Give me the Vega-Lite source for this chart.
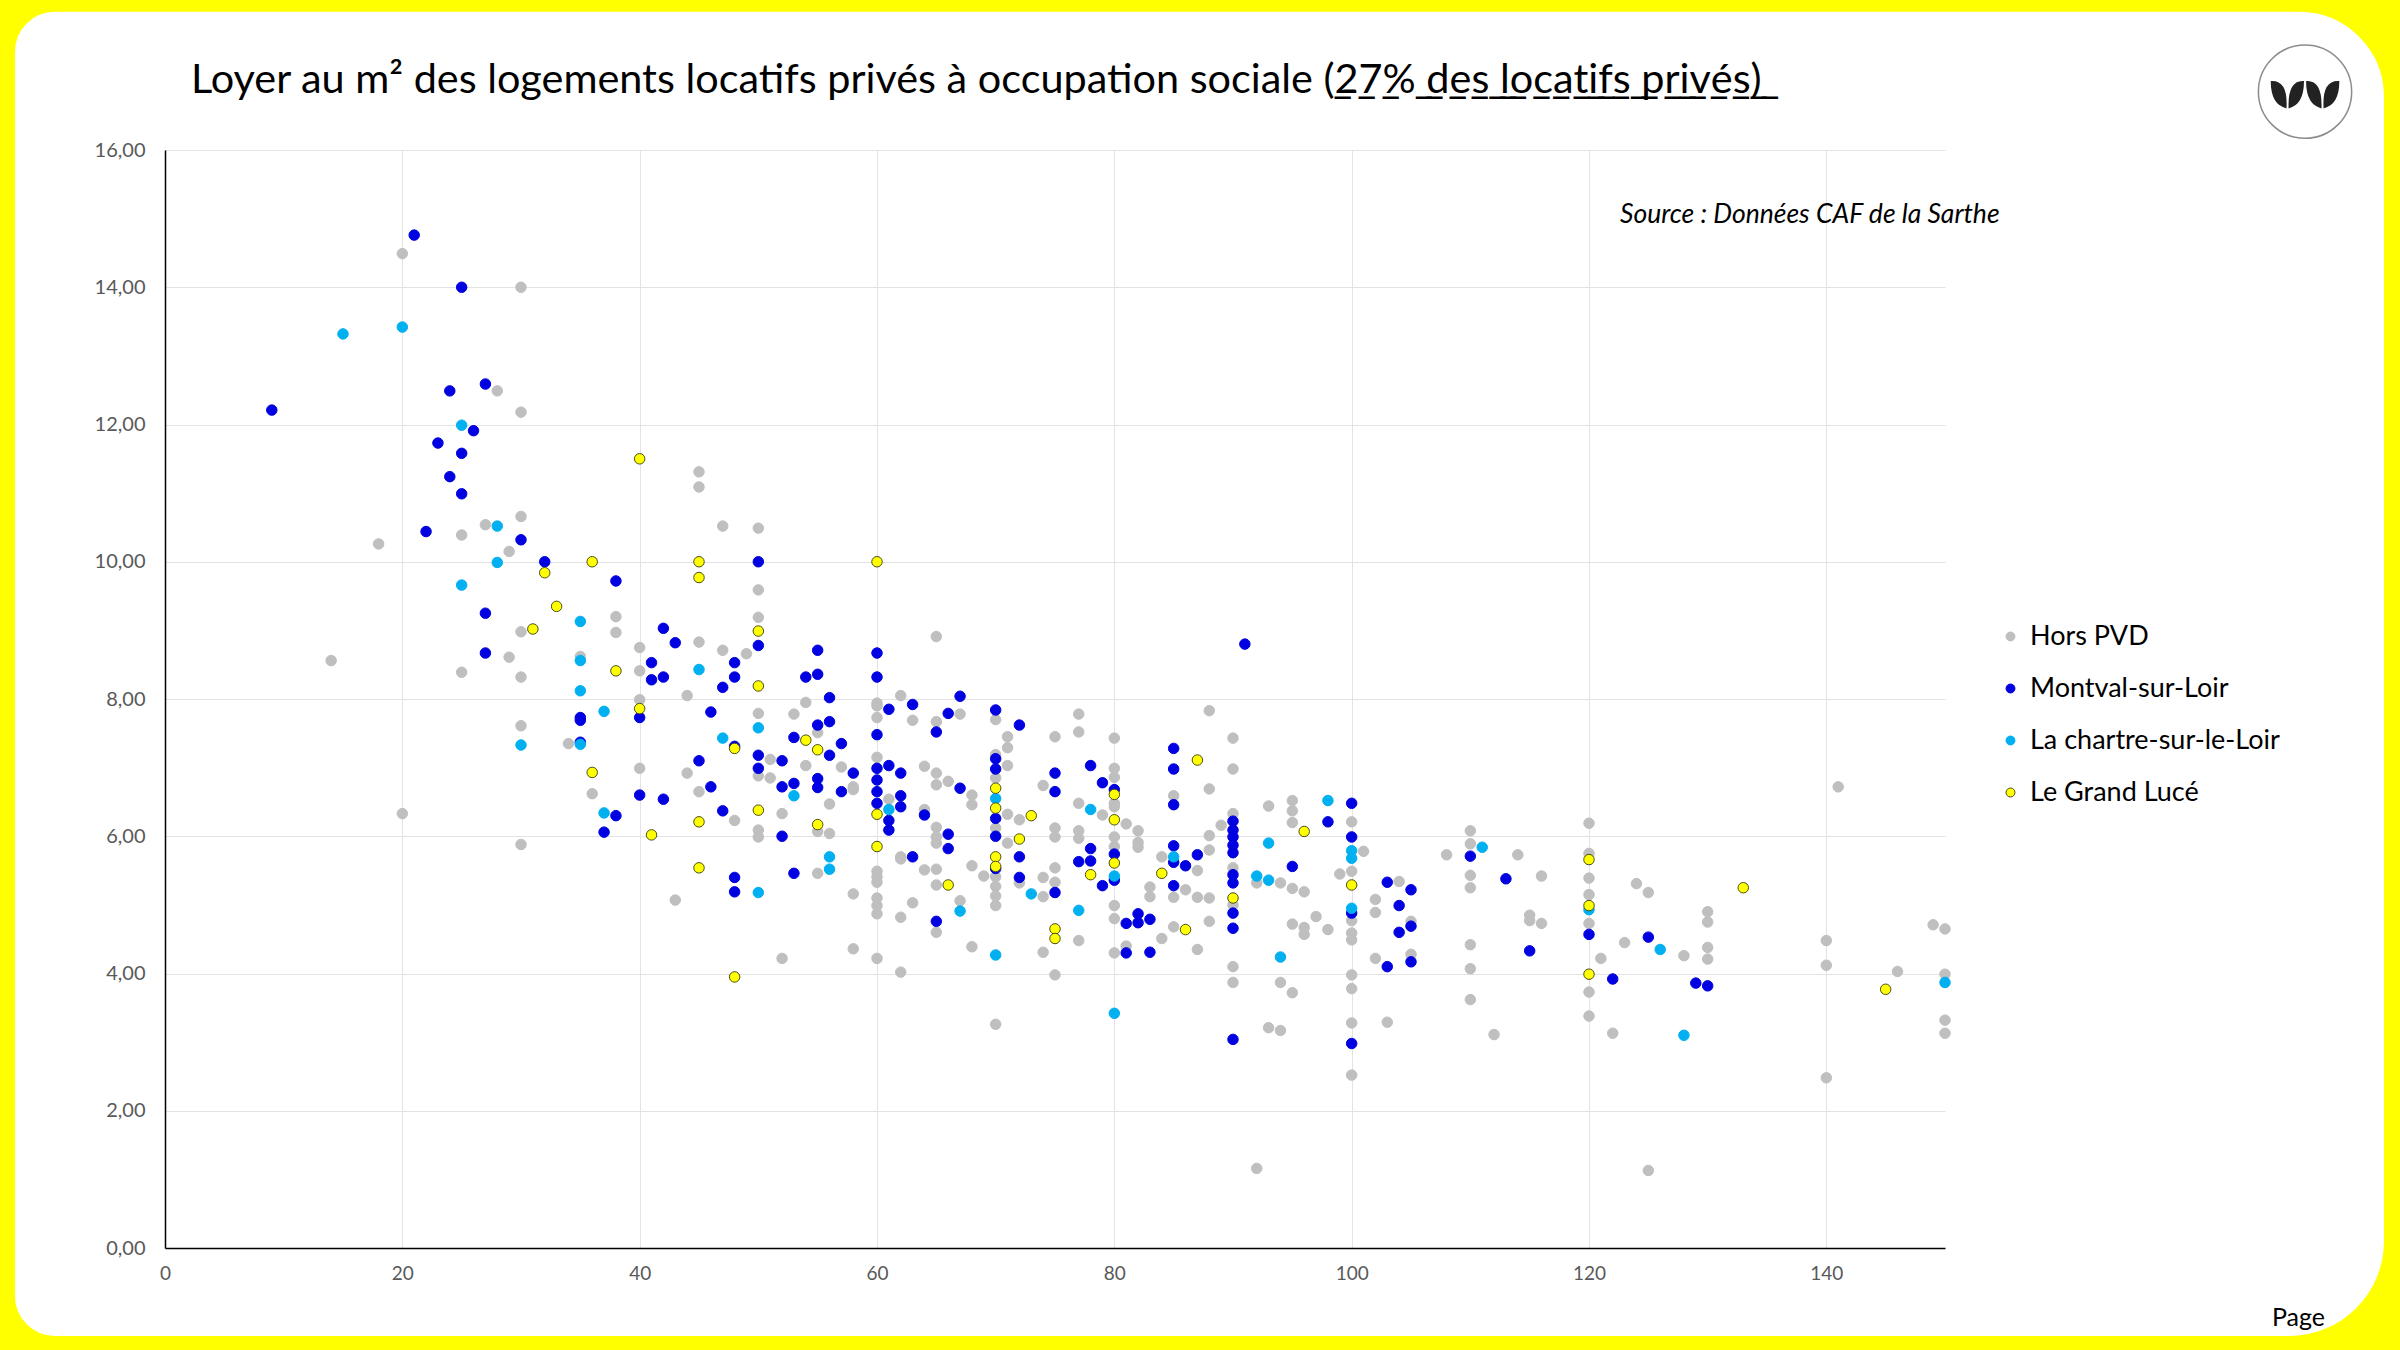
{
  "$schema": "https://vega.github.io/schema/vega-lite/v6.json",
  "autosize": "none",
  "width": 1780,
  "height": 1098,
  "padding": {"left": 165, "top": 150, "right": 455, "bottom": 102},
  "background": "#FFFFFF",
  "title": {
    "text": "Loyer au m² des logements locatifs privés à occupation sociale (̲2̲7̲%̲ ̲d̲e̲s̲ ̲l̲o̲c̲a̲t̲i̲f̲s̲ ̲p̲r̲i̲v̲é̲s̲)̲",
    "anchor": "start",
    "frame": "group",
    "dx": 26,
    "offset": -323,
    "baseline": "alphabetic",
    "font": "Lato",
    "fontSize": 41.4,
    "fontWeight": "normal",
    "color": "#000000",
    "limit": 2100
  },
  "config": {
    "font": "Lato",
    "view": {"stroke": null},
    "axis": {
      "ticks": false,
      "tickSize": 0,
      "grid": true,
      "gridColor": "#E3E3E3",
      "gridWidth": 1,
      "domainColor": "#000000",
      "domainWidth": 1.5,
      "labelFont": "Lato",
      "labelFontSize": 19,
      "labelColor": "#595959",
      "title": null
    }
  },
  "layer": [
    {
      "data": {
        "values": [
          {"serie":"Hors PVD","m2":20,"loyer":14.49},{"serie":"Hors PVD","m2":30,"loyer":14.0},{"serie":"Hors PVD","m2":28,"loyer":12.49},{"serie":"Hors PVD","m2":30,"loyer":12.18},{"serie":"Hors PVD","m2":30,"loyer":10.66},{"serie":"Hors PVD","m2":27,"loyer":10.54},{"serie":"Hors PVD","m2":25,"loyer":10.39},{"serie":"Hors PVD","m2":18,"loyer":10.26},{"serie":"Hors PVD","m2":29,"loyer":10.15},{"serie":"Hors PVD","m2":30,"loyer":8.98},{"serie":"Hors PVD","m2":29,"loyer":8.61},{"serie":"Hors PVD","m2":14,"loyer":8.56},{"serie":"Hors PVD","m2":25,"loyer":8.39},{"serie":"Hors PVD","m2":30,"loyer":8.32},{"serie":"Hors PVD","m2":30,"loyer":7.61},{"serie":"Hors PVD","m2":20,"loyer":6.33},{"serie":"Hors PVD","m2":30,"loyer":5.88},
          {"serie":"Hors PVD","m2":47,"loyer":10.52},{"serie":"Hors PVD","m2":50,"loyer":10.49},{"serie":"Hors PVD","m2":50,"loyer":9.59},{"serie":"Hors PVD","m2":38,"loyer":9.2},{"serie":"Hors PVD","m2":50,"loyer":9.19},{"serie":"Hors PVD","m2":38,"loyer":8.97},{"serie":"Hors PVD","m2":45,"loyer":8.83},{"serie":"Hors PVD","m2":40,"loyer":8.75},{"serie":"Hors PVD","m2":47,"loyer":8.71},{"serie":"Hors PVD","m2":49,"loyer":8.66},{"serie":"Hors PVD","m2":35,"loyer":8.62},{"serie":"Hors PVD","m2":40,"loyer":8.41},{"serie":"Hors PVD","m2":44,"loyer":8.05},{"serie":"Hors PVD","m2":40,"loyer":7.99},{"serie":"Hors PVD","m2":54,"loyer":7.95},{"serie":"Hors PVD","m2":60,"loyer":7.94},{"serie":"Hors PVD","m2":60,"loyer":7.9},{"serie":"Hors PVD","m2":50,"loyer":7.79},{"serie":"Hors PVD","m2":53,"loyer":7.78},{"serie":"Hors PVD","m2":60,"loyer":7.73},{"serie":"Hors PVD","m2":55,"loyer":7.51},{"serie":"Hors PVD","m2":34,"loyer":7.35},{"serie":"Hors PVD","m2":60,"loyer":7.15},{"serie":"Hors PVD","m2":51,"loyer":7.12},{"serie":"Hors PVD","m2":50,"loyer":6.88},{"serie":"Hors PVD","m2":51,"loyer":6.85},{"serie":"Hors PVD","m2":40,"loyer":6.99},{"serie":"Hors PVD","m2":44,"loyer":6.92},{"serie":"Hors PVD","m2":54,"loyer":7.03},{"serie":"Hors PVD","m2":57,"loyer":7.01},{"serie":"Hors PVD","m2":58,"loyer":6.72},{"serie":"Hors PVD","m2":58,"loyer":6.68},{"serie":"Hors PVD","m2":45,"loyer":6.65},{"serie":"Hors PVD","m2":36,"loyer":6.62},{"serie":"Hors PVD","m2":56,"loyer":6.47},{"serie":"Hors PVD","m2":48,"loyer":6.23},{"serie":"Hors PVD","m2":52,"loyer":6.33},{"serie":"Hors PVD","m2":55,"loyer":6.07},{"serie":"Hors PVD","m2":56,"loyer":6.04},{"serie":"Hors PVD","m2":50,"loyer":6.09},{"serie":"Hors PVD","m2":50,"loyer":5.99},{"serie":"Hors PVD","m2":45,"loyer":11.31},{"serie":"Hors PVD","m2":45,"loyer":11.09},
          {"serie":"Hors PVD","m2":55,"loyer":5.46},{"serie":"Hors PVD","m2":43,"loyer":5.07},{"serie":"Hors PVD","m2":58,"loyer":5.16},{"serie":"Hors PVD","m2":60,"loyer":5.49},{"serie":"Hors PVD","m2":60,"loyer":5.41},{"serie":"Hors PVD","m2":60,"loyer":5.33},{"serie":"Hors PVD","m2":60,"loyer":5.1},{"serie":"Hors PVD","m2":60,"loyer":4.99},{"serie":"Hors PVD","m2":60,"loyer":4.87},{"serie":"Hors PVD","m2":58,"loyer":4.36},{"serie":"Hors PVD","m2":52,"loyer":4.22},{"serie":"Hors PVD","m2":60,"loyer":4.22},
          {"serie":"Hors PVD","m2":65,"loyer":8.91},{"serie":"Hors PVD","m2":62,"loyer":8.05},{"serie":"Hors PVD","m2":63,"loyer":7.69},{"serie":"Hors PVD","m2":65,"loyer":7.67},{"serie":"Hors PVD","m2":67,"loyer":7.78},{"serie":"Hors PVD","m2":70,"loyer":7.7},{"serie":"Hors PVD","m2":71,"loyer":7.45},{"serie":"Hors PVD","m2":71,"loyer":7.29},{"serie":"Hors PVD","m2":71,"loyer":7.03},{"serie":"Hors PVD","m2":75,"loyer":7.45},{"serie":"Hors PVD","m2":77,"loyer":7.78},{"serie":"Hors PVD","m2":77,"loyer":7.52},{"serie":"Hors PVD","m2":80,"loyer":7.43},{"serie":"Hors PVD","m2":88,"loyer":7.83},{"serie":"Hors PVD","m2":90,"loyer":7.43},{"serie":"Hors PVD","m2":90,"loyer":6.98},{"serie":"Hors PVD","m2":64,"loyer":7.02},{"serie":"Hors PVD","m2":65,"loyer":6.92},{"serie":"Hors PVD","m2":65,"loyer":6.75},{"serie":"Hors PVD","m2":66,"loyer":6.8},{"serie":"Hors PVD","m2":68,"loyer":6.6},{"serie":"Hors PVD","m2":68,"loyer":6.46},{"serie":"Hors PVD","m2":70,"loyer":7.19},{"serie":"Hors PVD","m2":70,"loyer":6.85},{"serie":"Hors PVD","m2":70,"loyer":6.12},{"serie":"Hors PVD","m2":74,"loyer":6.74},{"serie":"Hors PVD","m2":77,"loyer":6.48},{"serie":"Hors PVD","m2":79,"loyer":6.31},{"serie":"Hors PVD","m2":80,"loyer":6.99},{"serie":"Hors PVD","m2":80,"loyer":6.86},{"serie":"Hors PVD","m2":80,"loyer":6.48},{"serie":"Hors PVD","m2":80,"loyer":6.43},{"serie":"Hors PVD","m2":81,"loyer":6.18},{"serie":"Hors PVD","m2":82,"loyer":6.08},{"serie":"Hors PVD","m2":80,"loyer":5.99},{"serie":"Hors PVD","m2":80,"loyer":5.85},{"serie":"Hors PVD","m2":82,"loyer":5.91},{"serie":"Hors PVD","m2":82,"loyer":5.84},{"serie":"Hors PVD","m2":85,"loyer":6.59},{"serie":"Hors PVD","m2":88,"loyer":6.69},{"serie":"Hors PVD","m2":90,"loyer":6.33},{"serie":"Hors PVD","m2":89,"loyer":6.16},{"serie":"Hors PVD","m2":88,"loyer":6.01},{"serie":"Hors PVD","m2":88,"loyer":5.8},{"serie":"Hors PVD","m2":84,"loyer":5.7},{"serie":"Hors PVD","m2":61,"loyer":6.54},{"serie":"Hors PVD","m2":64,"loyer":6.39},{"serie":"Hors PVD","m2":65,"loyer":6.13},{"serie":"Hors PVD","m2":65,"loyer":5.99},{"serie":"Hors PVD","m2":65,"loyer":5.9},{"serie":"Hors PVD","m2":62,"loyer":5.7},{"serie":"Hors PVD","m2":71,"loyer":6.32},{"serie":"Hors PVD","m2":72,"loyer":6.24},{"serie":"Hors PVD","m2":71,"loyer":5.9},{"serie":"Hors PVD","m2":75,"loyer":6.12},{"serie":"Hors PVD","m2":75,"loyer":5.99},{"serie":"Hors PVD","m2":77,"loyer":6.08},{"serie":"Hors PVD","m2":77,"loyer":5.97},
          {"serie":"Hors PVD","m2":62,"loyer":5.67},{"serie":"Hors PVD","m2":64,"loyer":5.51},{"serie":"Hors PVD","m2":65,"loyer":5.52},{"serie":"Hors PVD","m2":65,"loyer":5.29},{"serie":"Hors PVD","m2":63,"loyer":5.03},{"serie":"Hors PVD","m2":67,"loyer":5.06},{"serie":"Hors PVD","m2":65,"loyer":4.6},{"serie":"Hors PVD","m2":62,"loyer":4.82},{"serie":"Hors PVD","m2":68,"loyer":5.57},{"serie":"Hors PVD","m2":69,"loyer":5.42},{"serie":"Hors PVD","m2":70,"loyer":5.41},{"serie":"Hors PVD","m2":70,"loyer":5.27},{"serie":"Hors PVD","m2":70,"loyer":5.13},{"serie":"Hors PVD","m2":70,"loyer":4.99},{"serie":"Hors PVD","m2":70,"loyer":3.26},{"serie":"Hors PVD","m2":68,"loyer":4.39},{"serie":"Hors PVD","m2":62,"loyer":4.02},{"serie":"Hors PVD","m2":72,"loyer":5.32},{"serie":"Hors PVD","m2":74,"loyer":5.4},{"serie":"Hors PVD","m2":74,"loyer":5.12},{"serie":"Hors PVD","m2":75,"loyer":5.54},{"serie":"Hors PVD","m2":75,"loyer":5.33},{"serie":"Hors PVD","m2":74,"loyer":4.31},{"serie":"Hors PVD","m2":75,"loyer":3.98},{"serie":"Hors PVD","m2":77,"loyer":4.48},{"serie":"Hors PVD","m2":80,"loyer":4.99},{"serie":"Hors PVD","m2":80,"loyer":4.8},{"serie":"Hors PVD","m2":80,"loyer":4.3},{"serie":"Hors PVD","m2":81,"loyer":4.4},{"serie":"Hors PVD","m2":83,"loyer":5.26},{"serie":"Hors PVD","m2":83,"loyer":5.12},{"serie":"Hors PVD","m2":84,"loyer":4.51},{"serie":"Hors PVD","m2":85,"loyer":5.11},{"serie":"Hors PVD","m2":86,"loyer":5.22},{"serie":"Hors PVD","m2":85,"loyer":4.68},{"serie":"Hors PVD","m2":87,"loyer":5.5},{"serie":"Hors PVD","m2":87,"loyer":5.11},{"serie":"Hors PVD","m2":87,"loyer":4.35},{"serie":"Hors PVD","m2":88,"loyer":5.1},{"serie":"Hors PVD","m2":88,"loyer":4.76},{"serie":"Hors PVD","m2":90,"loyer":5.54},{"serie":"Hors PVD","m2":90,"loyer":5.0},{"serie":"Hors PVD","m2":90,"loyer":4.1},{"serie":"Hors PVD","m2":90,"loyer":3.87},
          {"serie":"Hors PVD","m2":93,"loyer":6.44},{"serie":"Hors PVD","m2":95,"loyer":6.52},{"serie":"Hors PVD","m2":95,"loyer":6.37},{"serie":"Hors PVD","m2":95,"loyer":6.2},{"serie":"Hors PVD","m2":100,"loyer":6.21},{"serie":"Hors PVD","m2":101,"loyer":5.78},{"serie":"Hors PVD","m2":92,"loyer":5.32},{"serie":"Hors PVD","m2":94,"loyer":5.32},{"serie":"Hors PVD","m2":95,"loyer":5.24},{"serie":"Hors PVD","m2":96,"loyer":5.19},{"serie":"Hors PVD","m2":99,"loyer":5.45},{"serie":"Hors PVD","m2":100,"loyer":5.49},{"serie":"Hors PVD","m2":104,"loyer":5.34},{"serie":"Hors PVD","m2":102,"loyer":5.08},{"serie":"Hors PVD","m2":110,"loyer":6.08},{"serie":"Hors PVD","m2":110,"loyer":5.89},{"serie":"Hors PVD","m2":110,"loyer":5.43},{"serie":"Hors PVD","m2":110,"loyer":5.25},{"serie":"Hors PVD","m2":108,"loyer":5.73},{"serie":"Hors PVD","m2":114,"loyer":5.73},{"serie":"Hors PVD","m2":116,"loyer":5.42},{"serie":"Hors PVD","m2":120,"loyer":6.19},{"serie":"Hors PVD","m2":120,"loyer":5.75},{"serie":"Hors PVD","m2":120,"loyer":5.39},{"serie":"Hors PVD","m2":120,"loyer":5.15},
          {"serie":"Hors PVD","m2":95,"loyer":4.72},{"serie":"Hors PVD","m2":96,"loyer":4.67},{"serie":"Hors PVD","m2":96,"loyer":4.57},{"serie":"Hors PVD","m2":97,"loyer":4.83},{"serie":"Hors PVD","m2":98,"loyer":4.64},{"serie":"Hors PVD","m2":94,"loyer":3.87},{"serie":"Hors PVD","m2":95,"loyer":3.72},{"serie":"Hors PVD","m2":93,"loyer":3.21},{"serie":"Hors PVD","m2":94,"loyer":3.17},{"serie":"Hors PVD","m2":92,"loyer":1.16},{"serie":"Hors PVD","m2":100,"loyer":4.77},{"serie":"Hors PVD","m2":100,"loyer":4.59},{"serie":"Hors PVD","m2":100,"loyer":4.49},{"serie":"Hors PVD","m2":100,"loyer":3.98},{"serie":"Hors PVD","m2":100,"loyer":3.78},{"serie":"Hors PVD","m2":100,"loyer":3.28},{"serie":"Hors PVD","m2":100,"loyer":2.52},{"serie":"Hors PVD","m2":102,"loyer":4.89},{"serie":"Hors PVD","m2":105,"loyer":4.76},{"serie":"Hors PVD","m2":102,"loyer":4.22},{"serie":"Hors PVD","m2":105,"loyer":4.28},{"serie":"Hors PVD","m2":103,"loyer":3.29},{"serie":"Hors PVD","m2":110,"loyer":4.42},{"serie":"Hors PVD","m2":110,"loyer":4.07},{"serie":"Hors PVD","m2":110,"loyer":3.62},{"serie":"Hors PVD","m2":112,"loyer":3.11},{"serie":"Hors PVD","m2":115,"loyer":4.85},{"serie":"Hors PVD","m2":115,"loyer":4.77},{"serie":"Hors PVD","m2":116,"loyer":4.73},{"serie":"Hors PVD","m2":120,"loyer":4.73},{"serie":"Hors PVD","m2":120,"loyer":3.73},{"serie":"Hors PVD","m2":120,"loyer":3.38},
          {"serie":"Hors PVD","m2":141,"loyer":6.72},{"serie":"Hors PVD","m2":124,"loyer":5.31},{"serie":"Hors PVD","m2":125,"loyer":5.18},{"serie":"Hors PVD","m2":130,"loyer":4.9},{"serie":"Hors PVD","m2":130,"loyer":4.75},{"serie":"Hors PVD","m2":123,"loyer":4.45},{"serie":"Hors PVD","m2":128,"loyer":4.26},{"serie":"Hors PVD","m2":130,"loyer":4.38},{"serie":"Hors PVD","m2":130,"loyer":4.21},{"serie":"Hors PVD","m2":121,"loyer":4.22},{"serie":"Hors PVD","m2":122,"loyer":3.13},{"serie":"Hors PVD","m2":125,"loyer":1.13},{"serie":"Hors PVD","m2":140,"loyer":4.48},{"serie":"Hors PVD","m2":140,"loyer":4.12},{"serie":"Hors PVD","m2":140,"loyer":2.48},{"serie":"Hors PVD","m2":146,"loyer":4.03},{"serie":"Hors PVD","m2":149,"loyer":4.71},{"serie":"Hors PVD","m2":150,"loyer":4.65},{"serie":"Hors PVD","m2":150,"loyer":3.99},{"serie":"Hors PVD","m2":150,"loyer":3.32},{"serie":"Hors PVD","m2":150,"loyer":3.13},

          {"serie":"Montval-sur-Loir","m2":21,"loyer":14.76},{"serie":"Montval-sur-Loir","m2":25,"loyer":14.0},{"serie":"Montval-sur-Loir","m2":27,"loyer":12.59},{"serie":"Montval-sur-Loir","m2":24,"loyer":12.49},{"serie":"Montval-sur-Loir","m2":9,"loyer":12.21},{"serie":"Montval-sur-Loir","m2":26,"loyer":11.91},{"serie":"Montval-sur-Loir","m2":23,"loyer":11.73},{"serie":"Montval-sur-Loir","m2":25,"loyer":11.58},{"serie":"Montval-sur-Loir","m2":24,"loyer":11.24},{"serie":"Montval-sur-Loir","m2":25,"loyer":10.99},{"serie":"Montval-sur-Loir","m2":22,"loyer":10.44},{"serie":"Montval-sur-Loir","m2":30,"loyer":10.32},{"serie":"Montval-sur-Loir","m2":32,"loyer":10.0},{"serie":"Montval-sur-Loir","m2":27,"loyer":9.25},{"serie":"Montval-sur-Loir","m2":27,"loyer":8.67},
          {"serie":"Montval-sur-Loir","m2":50,"loyer":10.0},{"serie":"Montval-sur-Loir","m2":38,"loyer":9.72},{"serie":"Montval-sur-Loir","m2":42,"loyer":9.03},{"serie":"Montval-sur-Loir","m2":43,"loyer":8.82},{"serie":"Montval-sur-Loir","m2":50,"loyer":8.78},{"serie":"Montval-sur-Loir","m2":55,"loyer":8.71},{"serie":"Montval-sur-Loir","m2":60,"loyer":8.67},{"serie":"Montval-sur-Loir","m2":41,"loyer":8.53},{"serie":"Montval-sur-Loir","m2":48,"loyer":8.53},{"serie":"Montval-sur-Loir","m2":41,"loyer":8.28},{"serie":"Montval-sur-Loir","m2":42,"loyer":8.32},{"serie":"Montval-sur-Loir","m2":48,"loyer":8.32},{"serie":"Montval-sur-Loir","m2":47,"loyer":8.17},{"serie":"Montval-sur-Loir","m2":54,"loyer":8.32},{"serie":"Montval-sur-Loir","m2":55,"loyer":8.36},{"serie":"Montval-sur-Loir","m2":60,"loyer":8.32},{"serie":"Montval-sur-Loir","m2":56,"loyer":8.02},{"serie":"Montval-sur-Loir","m2":40,"loyer":7.73},{"serie":"Montval-sur-Loir","m2":46,"loyer":7.81},{"serie":"Montval-sur-Loir","m2":35,"loyer":7.73},{"serie":"Montval-sur-Loir","m2":35,"loyer":7.69},{"serie":"Montval-sur-Loir","m2":61,"loyer":7.85},{"serie":"Montval-sur-Loir","m2":55,"loyer":7.62},{"serie":"Montval-sur-Loir","m2":56,"loyer":7.67},{"serie":"Montval-sur-Loir","m2":60,"loyer":7.48},{"serie":"Montval-sur-Loir","m2":35,"loyer":7.37},{"serie":"Montval-sur-Loir","m2":48,"loyer":7.31},{"serie":"Montval-sur-Loir","m2":53,"loyer":7.44},{"serie":"Montval-sur-Loir","m2":57,"loyer":7.35},{"serie":"Montval-sur-Loir","m2":56,"loyer":7.18},{"serie":"Montval-sur-Loir","m2":61,"loyer":7.03},{"serie":"Montval-sur-Loir","m2":50,"loyer":7.18},{"serie":"Montval-sur-Loir","m2":52,"loyer":7.1},{"serie":"Montval-sur-Loir","m2":50,"loyer":6.99},{"serie":"Montval-sur-Loir","m2":45,"loyer":7.1},{"serie":"Montval-sur-Loir","m2":58,"loyer":6.92},{"serie":"Montval-sur-Loir","m2":60,"loyer":6.99},{"serie":"Montval-sur-Loir","m2":60,"loyer":6.82},{"serie":"Montval-sur-Loir","m2":60,"loyer":6.65},{"serie":"Montval-sur-Loir","m2":60,"loyer":6.48},{"serie":"Montval-sur-Loir","m2":57,"loyer":6.65},{"serie":"Montval-sur-Loir","m2":55,"loyer":6.84},{"serie":"Montval-sur-Loir","m2":55,"loyer":6.71},{"serie":"Montval-sur-Loir","m2":53,"loyer":6.77},{"serie":"Montval-sur-Loir","m2":52,"loyer":6.72},{"serie":"Montval-sur-Loir","m2":46,"loyer":6.72},{"serie":"Montval-sur-Loir","m2":40,"loyer":6.6},{"serie":"Montval-sur-Loir","m2":42,"loyer":6.54},{"serie":"Montval-sur-Loir","m2":38,"loyer":6.3},{"serie":"Montval-sur-Loir","m2":37,"loyer":6.06},{"serie":"Montval-sur-Loir","m2":47,"loyer":6.37},{"serie":"Montval-sur-Loir","m2":52,"loyer":6.0},{"serie":"Montval-sur-Loir","m2":61,"loyer":6.23},{"serie":"Montval-sur-Loir","m2":61,"loyer":6.09},
          {"serie":"Montval-sur-Loir","m2":53,"loyer":5.46},{"serie":"Montval-sur-Loir","m2":48,"loyer":5.4},{"serie":"Montval-sur-Loir","m2":48,"loyer":5.19},
          {"serie":"Montval-sur-Loir","m2":67,"loyer":8.04},{"serie":"Montval-sur-Loir","m2":63,"loyer":7.92},{"serie":"Montval-sur-Loir","m2":66,"loyer":7.79},{"serie":"Montval-sur-Loir","m2":65,"loyer":7.52},{"serie":"Montval-sur-Loir","m2":70,"loyer":7.84},{"serie":"Montval-sur-Loir","m2":72,"loyer":7.62},{"serie":"Montval-sur-Loir","m2":85,"loyer":7.28},{"serie":"Montval-sur-Loir","m2":85,"loyer":6.98},{"serie":"Montval-sur-Loir","m2":62,"loyer":6.92},{"serie":"Montval-sur-Loir","m2":67,"loyer":6.7},{"serie":"Montval-sur-Loir","m2":70,"loyer":7.13},{"serie":"Montval-sur-Loir","m2":70,"loyer":6.98},{"serie":"Montval-sur-Loir","m2":70,"loyer":6.26},{"serie":"Montval-sur-Loir","m2":70,"loyer":6.0},{"serie":"Montval-sur-Loir","m2":75,"loyer":6.92},{"serie":"Montval-sur-Loir","m2":75,"loyer":6.65},{"serie":"Montval-sur-Loir","m2":78,"loyer":7.03},{"serie":"Montval-sur-Loir","m2":79,"loyer":6.78},{"serie":"Montval-sur-Loir","m2":80,"loyer":6.68},{"serie":"Montval-sur-Loir","m2":80,"loyer":5.74},{"serie":"Montval-sur-Loir","m2":85,"loyer":6.46},{"serie":"Montval-sur-Loir","m2":90,"loyer":6.22},{"serie":"Montval-sur-Loir","m2":90,"loyer":6.09},{"serie":"Montval-sur-Loir","m2":90,"loyer":5.99},{"serie":"Montval-sur-Loir","m2":90,"loyer":5.87},{"serie":"Montval-sur-Loir","m2":90,"loyer":5.76},{"serie":"Montval-sur-Loir","m2":85,"loyer":5.86},{"serie":"Montval-sur-Loir","m2":87,"loyer":5.73},{"serie":"Montval-sur-Loir","m2":62,"loyer":6.59},{"serie":"Montval-sur-Loir","m2":62,"loyer":6.43},{"serie":"Montval-sur-Loir","m2":64,"loyer":6.31},{"serie":"Montval-sur-Loir","m2":66,"loyer":6.03},{"serie":"Montval-sur-Loir","m2":66,"loyer":5.82},{"serie":"Montval-sur-Loir","m2":63,"loyer":5.7},{"serie":"Montval-sur-Loir","m2":72,"loyer":5.7},{"serie":"Montval-sur-Loir","m2":78,"loyer":5.82},{"serie":"Montval-sur-Loir","m2":77,"loyer":5.63},{"serie":"Montval-sur-Loir","m2":78,"loyer":5.64},
          {"serie":"Montval-sur-Loir","m2":70,"loyer":5.53},{"serie":"Montval-sur-Loir","m2":72,"loyer":5.4},{"serie":"Montval-sur-Loir","m2":75,"loyer":5.18},{"serie":"Montval-sur-Loir","m2":79,"loyer":5.28},{"serie":"Montval-sur-Loir","m2":80,"loyer":5.36},{"serie":"Montval-sur-Loir","m2":81,"loyer":4.73},{"serie":"Montval-sur-Loir","m2":82,"loyer":4.87},{"serie":"Montval-sur-Loir","m2":82,"loyer":4.74},{"serie":"Montval-sur-Loir","m2":83,"loyer":4.79},{"serie":"Montval-sur-Loir","m2":81,"loyer":4.3},{"serie":"Montval-sur-Loir","m2":83,"loyer":4.31},{"serie":"Montval-sur-Loir","m2":85,"loyer":5.62},{"serie":"Montval-sur-Loir","m2":86,"loyer":5.57},{"serie":"Montval-sur-Loir","m2":85,"loyer":5.28},{"serie":"Montval-sur-Loir","m2":90,"loyer":5.44},{"serie":"Montval-sur-Loir","m2":90,"loyer":5.32},{"serie":"Montval-sur-Loir","m2":90,"loyer":4.88},{"serie":"Montval-sur-Loir","m2":90,"loyer":4.66},{"serie":"Montval-sur-Loir","m2":90,"loyer":3.04},{"serie":"Montval-sur-Loir","m2":65,"loyer":4.76},
          {"serie":"Montval-sur-Loir","m2":100,"loyer":6.48},{"serie":"Montval-sur-Loir","m2":98,"loyer":6.21},{"serie":"Montval-sur-Loir","m2":100,"loyer":5.99},{"serie":"Montval-sur-Loir","m2":95,"loyer":5.56},{"serie":"Montval-sur-Loir","m2":103,"loyer":5.33},{"serie":"Montval-sur-Loir","m2":105,"loyer":5.22},{"serie":"Montval-sur-Loir","m2":104,"loyer":4.99},{"serie":"Montval-sur-Loir","m2":110,"loyer":5.71},{"serie":"Montval-sur-Loir","m2":113,"loyer":5.38},
          {"serie":"Montval-sur-Loir","m2":100,"loyer":4.88},{"serie":"Montval-sur-Loir","m2":105,"loyer":4.69},{"serie":"Montval-sur-Loir","m2":104,"loyer":4.6},{"serie":"Montval-sur-Loir","m2":103,"loyer":4.1},{"serie":"Montval-sur-Loir","m2":105,"loyer":4.17},{"serie":"Montval-sur-Loir","m2":115,"loyer":4.33},{"serie":"Montval-sur-Loir","m2":100,"loyer":2.98},{"serie":"Montval-sur-Loir","m2":120,"loyer":4.57},
          {"serie":"Montval-sur-Loir","m2":125,"loyer":4.53},{"serie":"Montval-sur-Loir","m2":122,"loyer":3.92},{"serie":"Montval-sur-Loir","m2":129,"loyer":3.86},{"serie":"Montval-sur-Loir","m2":130,"loyer":3.82},{"serie":"Montval-sur-Loir","m2":91,"loyer":8.8},

          {"serie":"La chartre-sur-le-Loir","m2":15,"loyer":13.32},{"serie":"La chartre-sur-le-Loir","m2":20,"loyer":13.42},{"serie":"La chartre-sur-le-Loir","m2":25,"loyer":11.99},{"serie":"La chartre-sur-le-Loir","m2":28,"loyer":10.52},{"serie":"La chartre-sur-le-Loir","m2":28,"loyer":9.99},{"serie":"La chartre-sur-le-Loir","m2":25,"loyer":9.66},{"serie":"La chartre-sur-le-Loir","m2":30,"loyer":7.33},{"serie":"La chartre-sur-le-Loir","m2":35,"loyer":9.13},{"serie":"La chartre-sur-le-Loir","m2":35,"loyer":8.56},{"serie":"La chartre-sur-le-Loir","m2":45,"loyer":8.43},{"serie":"La chartre-sur-le-Loir","m2":35,"loyer":8.12},{"serie":"La chartre-sur-le-Loir","m2":37,"loyer":7.82},{"serie":"La chartre-sur-le-Loir","m2":50,"loyer":7.58},{"serie":"La chartre-sur-le-Loir","m2":35,"loyer":7.34},{"serie":"La chartre-sur-le-Loir","m2":47,"loyer":7.43},{"serie":"La chartre-sur-le-Loir","m2":53,"loyer":6.59},{"serie":"La chartre-sur-le-Loir","m2":37,"loyer":6.34},{"serie":"La chartre-sur-le-Loir","m2":61,"loyer":6.39},{"serie":"La chartre-sur-le-Loir","m2":56,"loyer":5.7},{"serie":"La chartre-sur-le-Loir","m2":56,"loyer":5.52},{"serie":"La chartre-sur-le-Loir","m2":50,"loyer":5.18},{"serie":"La chartre-sur-le-Loir","m2":70,"loyer":6.55},{"serie":"La chartre-sur-le-Loir","m2":78,"loyer":6.39},{"serie":"La chartre-sur-le-Loir","m2":85,"loyer":5.7},{"serie":"La chartre-sur-le-Loir","m2":67,"loyer":4.91},{"serie":"La chartre-sur-le-Loir","m2":70,"loyer":4.27},{"serie":"La chartre-sur-le-Loir","m2":73,"loyer":5.16},{"serie":"La chartre-sur-le-Loir","m2":77,"loyer":4.92},{"serie":"La chartre-sur-le-Loir","m2":80,"loyer":5.42},{"serie":"La chartre-sur-le-Loir","m2":80,"loyer":3.42},{"serie":"La chartre-sur-le-Loir","m2":98,"loyer":6.52},{"serie":"La chartre-sur-le-Loir","m2":93,"loyer":5.9},{"serie":"La chartre-sur-le-Loir","m2":100,"loyer":5.79},{"serie":"La chartre-sur-le-Loir","m2":100,"loyer":5.68},{"serie":"La chartre-sur-le-Loir","m2":111,"loyer":5.84},{"serie":"La chartre-sur-le-Loir","m2":92,"loyer":5.42},{"serie":"La chartre-sur-le-Loir","m2":93,"loyer":5.36},{"serie":"La chartre-sur-le-Loir","m2":100,"loyer":4.95},{"serie":"La chartre-sur-le-Loir","m2":94,"loyer":4.24},{"serie":"La chartre-sur-le-Loir","m2":120,"loyer":4.93},{"serie":"La chartre-sur-le-Loir","m2":126,"loyer":4.35},{"serie":"La chartre-sur-le-Loir","m2":128,"loyer":3.1},{"serie":"La chartre-sur-le-Loir","m2":150,"loyer":3.87},

          {"serie":"Le Grand Lucé","m2":32,"loyer":9.84},{"serie":"Le Grand Lucé","m2":31,"loyer":9.02},{"serie":"Le Grand Lucé","m2":36,"loyer":10.0},{"serie":"Le Grand Lucé","m2":45,"loyer":10.0},{"serie":"Le Grand Lucé","m2":60,"loyer":10.0},{"serie":"Le Grand Lucé","m2":45,"loyer":9.77},{"serie":"Le Grand Lucé","m2":33,"loyer":9.35},{"serie":"Le Grand Lucé","m2":50,"loyer":8.99},{"serie":"Le Grand Lucé","m2":38,"loyer":8.41},{"serie":"Le Grand Lucé","m2":50,"loyer":8.19},{"serie":"Le Grand Lucé","m2":40,"loyer":7.86},{"serie":"Le Grand Lucé","m2":48,"loyer":7.28},{"serie":"Le Grand Lucé","m2":54,"loyer":7.4},{"serie":"Le Grand Lucé","m2":55,"loyer":7.26},{"serie":"Le Grand Lucé","m2":36,"loyer":6.93},{"serie":"Le Grand Lucé","m2":50,"loyer":6.38},{"serie":"Le Grand Lucé","m2":45,"loyer":6.21},{"serie":"Le Grand Lucé","m2":55,"loyer":6.17},{"serie":"Le Grand Lucé","m2":41,"loyer":6.02},{"serie":"Le Grand Lucé","m2":60,"loyer":6.32},{"serie":"Le Grand Lucé","m2":60,"loyer":5.85},{"serie":"Le Grand Lucé","m2":40,"loyer":11.5},{"serie":"Le Grand Lucé","m2":45,"loyer":5.54},{"serie":"Le Grand Lucé","m2":48,"loyer":3.95},{"serie":"Le Grand Lucé","m2":87,"loyer":7.11},{"serie":"Le Grand Lucé","m2":70,"loyer":6.7},{"serie":"Le Grand Lucé","m2":70,"loyer":6.41},{"serie":"Le Grand Lucé","m2":80,"loyer":6.61},{"serie":"Le Grand Lucé","m2":80,"loyer":6.24},{"serie":"Le Grand Lucé","m2":73,"loyer":6.3},{"serie":"Le Grand Lucé","m2":72,"loyer":5.96},{"serie":"Le Grand Lucé","m2":70,"loyer":5.7},{"serie":"Le Grand Lucé","m2":70,"loyer":5.56},{"serie":"Le Grand Lucé","m2":66,"loyer":5.29},{"serie":"Le Grand Lucé","m2":75,"loyer":4.65},{"serie":"Le Grand Lucé","m2":75,"loyer":4.51},{"serie":"Le Grand Lucé","m2":78,"loyer":5.44},{"serie":"Le Grand Lucé","m2":80,"loyer":5.61},{"serie":"Le Grand Lucé","m2":84,"loyer":5.46},{"serie":"Le Grand Lucé","m2":86,"loyer":4.64},{"serie":"Le Grand Lucé","m2":90,"loyer":5.1},{"serie":"Le Grand Lucé","m2":96,"loyer":6.07},{"serie":"Le Grand Lucé","m2":100,"loyer":5.29},{"serie":"Le Grand Lucé","m2":120,"loyer":5.66},{"serie":"Le Grand Lucé","m2":120,"loyer":4.99},{"serie":"Le Grand Lucé","m2":120,"loyer":3.99},{"serie":"Le Grand Lucé","m2":133,"loyer":5.25},{"serie":"Le Grand Lucé","m2":145,"loyer":3.77}
        ]
      },
      "mark": {"type": "point", "filled": true, "size": 110, "strokeWidth": 1, "opacity": 1},
      "encoding": {
        "x": {
          "field": "m2", "type": "quantitative", "title": null,
          "scale": {"domain": [0, 150], "nice": false, "zero": false},
          "axis": {"values": [0, 20, 40, 60, 80, 100, 120, 140], "labelPadding": 16, "labelFlush": false}
        },
        "y": {
          "field": "loyer", "type": "quantitative", "title": null,
          "scale": {"domain": [0, 16], "nice": false, "zero": false},
          "axis": {"values": [0, 2, 4, 6, 8, 10, 12, 14, 16], "labelPadding": 20, "labelFontSize": 20,
                   "labelExpr": "replace(format(datum.value, '.2f'), '.', ',')"}
        },
        "color": {
          "field": "serie", "type": "nominal",
          "scale": {"domain": ["Hors PVD", "Montval-sur-Loir", "La chartre-sur-le-Loir", "Le Grand Lucé"],
                    "range": ["#BFBFBF", "#0000E0", "#00B0F0", "#FFFF00"]},
          "legend": {"orient": "none", "legendX": 1832, "legendY": 473, "title": null, "padding": 0,
                     "labelFont": "Lato", "labelFontSize": 27, "labelColor": "#000000", "labelOffset": 6, "labelLimit": 500,
                     "symbolType": "circle", "symbolSize": 80, "symbolStrokeWidth": 1, "rowPadding": 24}
        },
        "stroke": {
          "field": "serie", "type": "nominal",
          "scale": {"domain": ["Hors PVD", "Montval-sur-Loir", "La chartre-sur-le-Loir", "Le Grand Lucé"],
                    "range": ["#BFBFBF", "#0000E0", "#00B0F0", "#4D4D1A"]},
          "legend": {"orient": "none", "legendX": 1832, "legendY": 473, "title": null, "padding": 0,
                     "labelFont": "Lato", "labelFontSize": 27, "labelColor": "#000000", "labelOffset": 6, "labelLimit": 500,
                     "symbolType": "circle", "symbolSize": 80, "symbolStrokeWidth": 1, "rowPadding": 24}
        }
      }
    },
    {
      "data": {"values": [{"note": "Source : Données CAF de la Sarthe"}]},
      "mark": {"type": "text", "align": "right", "baseline": "middle", "font": "Lato", "fontStyle": "italic", "fontSize": 26.5, "color": "#000000"},
      "encoding": {
        "x": {"datum": 154.6, "type": "quantitative", "title": null, "scale": {"domain": [0, 150], "nice": false, "zero": false}},
        "y": {"datum": 15.06, "type": "quantitative", "title": null, "scale": {"domain": [0, 16], "nice": false, "zero": false}},
        "text": {"field": "note"}
      }
    },
    {
      "data": {"values": [{"page": "Page"}]},
      "mark": {"type": "text", "align": "left", "baseline": "middle", "font": "Lato", "fontSize": 25, "color": "#000000"},
      "encoding": {
        "x": {"datum": 177.55, "type": "quantitative", "title": null, "scale": {"domain": [0, 150], "nice": false, "zero": false}},
        "y": {"datum": -1.02, "type": "quantitative", "title": null, "scale": {"domain": [0, 16], "nice": false, "zero": false}},
        "text": {"field": "page"}
      }
    },
    {
      "data": {"values": [{"logo": "cercle"}]},
      "mark": {"type": "point", "shape": "circle", "size": 8700, "filled": false, "fill": "#FFFFFF", "stroke": "#8C8C8C", "strokeWidth": 1.5, "opacity": 1},
      "encoding": {
        "x": {"datum": 180.34, "type": "quantitative", "title": null, "scale": {"domain": [0, 150], "nice": false, "zero": false}},
        "y": {"datum": 16.85, "type": "quantitative", "title": null, "scale": {"domain": [0, 16], "nice": false, "zero": false}}
      }
    },
    {
      "data": {"values": [{"logo": "feuilles"}]},
      "mark": {"type": "point", "filled": true, "size": 4900, "color": "#222222", "opacity": 1, "strokeWidth": 0,
               "shape": "M -0.98 -0.38 Q -0.48 -0.42 -0.53 0.4 Q -0.98 0.3 -0.98 -0.38 Z M -0.03 -0.38 Q -0.5 -0.42 -0.47 0.4 Q -0.03 0.3 -0.03 -0.38 Z M 0.03 -0.38 Q 0.5 -0.42 0.47 0.4 Q 0.03 0.3 0.03 -0.38 Z M 0.98 -0.38 Q 0.48 -0.42 0.53 0.4 Q 0.98 0.3 0.98 -0.38 Z"},
      "encoding": {
        "x": {"datum": 180.34, "type": "quantitative", "title": null, "scale": {"domain": [0, 150], "nice": false, "zero": false}},
        "y": {"datum": 16.81, "type": "quantitative", "title": null, "scale": {"domain": [0, 16], "nice": false, "zero": false}}
      }
    },
    {
      "data": {"values": [{"cadre": "bordure"}]},
      "mark": {"type": "rect", "fill": "transparent", "stroke": "#FFFF00", "strokeWidth": 200,
               "cornerRadiusTopLeft": 140, "cornerRadiusTopRight": 185, "cornerRadiusBottomRight": 195, "cornerRadiusBottomLeft": 140},
      "encoding": {
        "x": {"datum": -21.07, "type": "quantitative", "title": null, "scale": {"domain": [0, 150], "nice": false, "zero": false}},
        "x2": {"datum": 195.42},
        "y": {"datum": 19.47, "type": "quantitative", "title": null, "scale": {"domain": [0, 16], "nice": false, "zero": false}},
        "y2": {"datum": -2.74}
      }
    }
  ]
}
